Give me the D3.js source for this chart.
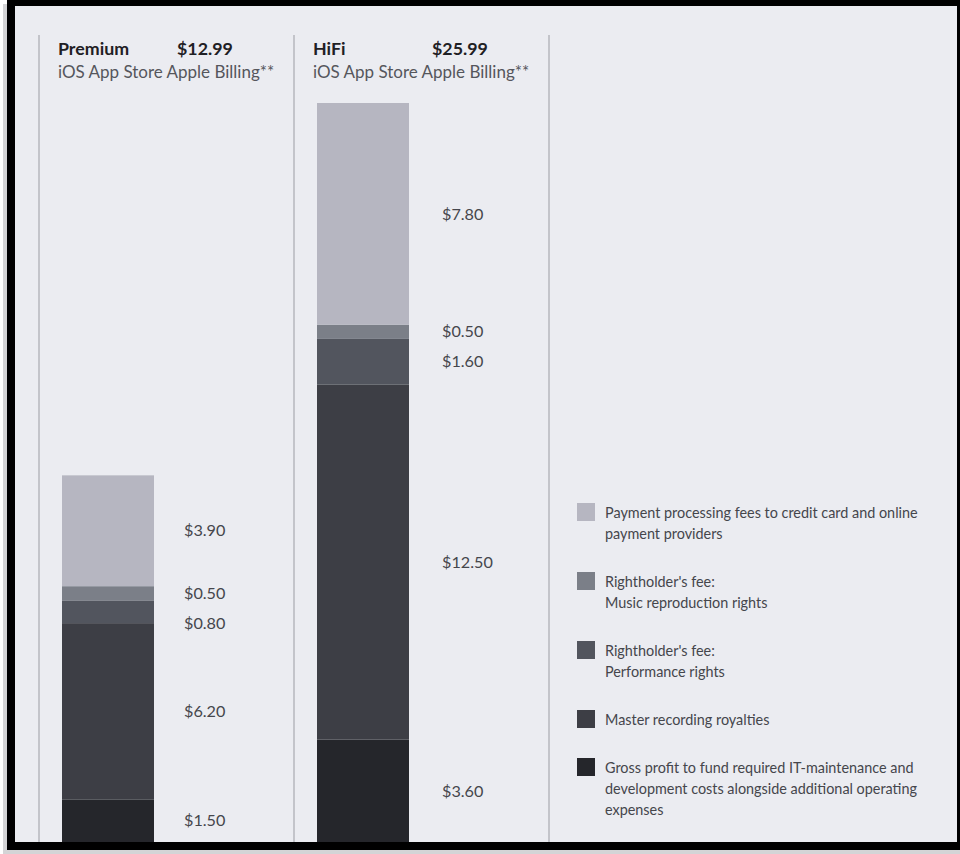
<!DOCTYPE html>
<html lang="en">
<head>
    <meta charset="UTF-8">
    <title>Subscription price breakdown</title>
    <script src="https://cdnjs.cloudflare.com/ajax/libs/d3/7.8.5/d3.js"></script>
    <style>
        html, body { margin: 0; padding: 0; background: #ffffff; }
        svg { display: block; font-family: Lato, "Open Sans", sans-serif; }
    </style>
</head>
<body>
<svg width="960" height="854"></svg>

<script>
    // ---- data ----
    const plans = ["Premium", "HiFi"];
    const prices = ["$12.99", "$25.99"];
    const billing = "iOS App Store Apple Billing**";

    // stack order: bottom -> top
    const keys = ["gross", "master", "performance", "reproduction", "payment"];
    const premiumValues = [1.50, 6.20, 0.80, 0.50, 3.90];
    const hifiValues = [3.60, 12.50, 1.60, 0.50, 7.80];
    const colors = ["#25262b", "#3d3e45", "#52555e", "#7b7f88", "#b6b6c1"];

    // legend, listed top -> bottom
    const legendKeys = ["payment", "reproduction", "performance", "master", "gross"];
    const legendLines = [
        ["Payment processing fees to credit card and online", "payment providers"],
        ["Rightholder's fee:", "Music reproduction rights"],
        ["Rightholder's fee:", "Performance rights"],
        ["Master recording royalties"],
        ["Gross profit to fund required IT-maintenance and", "development costs alongside additional operating", "expenses"]
    ];

    // ---- layout ----
    const svg = d3.select("svg");
    const panel = { x: 15, y: 6, w: 942, h: 836 };
    const bottom = panel.y + panel.h;

    // frame + shadow
    svg.append("rect").attr("x", 3).attr("y", 4).attr("width", 957).attr("height", 850).attr("fill", "#d4d4d6");
    svg.append("rect").attr("x", 7).attr("y", 0).attr("width", 953).attr("height", 850).attr("fill", "#000");
    svg.append("rect").attr("x", panel.x).attr("y", panel.y).attr("width", panel.w).attr("height", panel.h).attr("fill", "#ebecf1");

    const table = plans.map((p, i) => {
        const row = { plan: p, price: prices[i] };
        const vals = i === 0 ? premiumValues : hifiValues;
        keys.forEach((k, j) => row[k] = vals[j]);
        return row;
    });

    const stacked = d3.stack().keys(keys)(table);
    const color = d3.scaleOrdinal().domain(keys).range(colors);

    const x = d3.scaleBand().domain(plans).range([39, 549]);
    const y = d3.scaleLinear()
        .domain([0, d3.max(stacked[stacked.length - 1], d => d[1])])
        .range([bottom, 103]);

    svg.append("clipPath").attr("id", "panelClip")
        .append("rect").attr("x", panel.x).attr("y", panel.y).attr("width", panel.w).attr("height", panel.h);

    const g = svg.append("g").attr("clip-path", "url(#panelClip)");

    // column dividers
    const lineXs = plans.map(p => x(p)).concat([x.range()[1]]);
    g.selectAll("line.divider")
        .data(lineXs)
        .enter()
        .append("line")
        .attr("class", "divider")
        .attr("x1", d => d).attr("x2", d => d)
        .attr("y1", 35).attr("y2", bottom)
        .attr("stroke", "#b6b7bc")
        .attr("stroke-width", 1.5);

    // bars
    const barOffset = 23, barWidth = 92;
    g.selectAll("g.layer")
        .data(stacked)
        .enter()
        .append("g")
        .attr("class", "layer")
        .attr("fill", d => color(d.key))
        .selectAll("rect")
        .data(d => d)
        .enter()
        .append("rect")
        .attr("x", d => x(d.data.plan) + barOffset)
        .attr("width", barWidth)
        .attr("y", d => y(d[1]))
        .attr("height", d => y(d[0]) - y(d[1]));

    // headers
    const header = svg.append("g");
    plans.forEach((p, i) => {
        const cx = x(p);
        header.append("text").attr("x", cx + 19).attr("y", 55)
            .attr("font-size", 17.8).attr("font-weight", 700).attr("fill", "#1f2024").text(p);
        header.append("text").attr("x", cx + 138).attr("y", 55)
            .attr("font-size", 17.8).attr("font-weight", 700).attr("fill", "#1f2024").text(prices[i]);
        header.append("text").attr("x", cx + 19).attr("y", 78)
            .attr("font-size", 17).attr("fill", "#55565c").text(billing);
    });

    // value labels at segment midpoints, nudged so they don't collide
    const fmt = d => "$" + d3.format(".2f")(d);
    plans.forEach((p, i) => {
        const labels = stacked.map(layer => {
            const s = layer[i];
            return { v: s[1] - s[0], y: (y(s[0]) + y(s[1])) / 2 };
        }).sort((a, b) => a.y - b.y);
        for (let k = 1; k < labels.length; k++) {
            if (labels[k].y - labels[k - 1].y < 30) labels[k].y = labels[k - 1].y + 30;
        }
        g.selectAll(null)
            .data(labels)
            .enter()
            .append("text")
            .attr("x", x(p) + 145 + i * 3)
            .attr("y", d => d.y)
            .attr("dy", "0.35em")
            .attr("font-size", 16.2)
            .attr("fill", "#45464c")
            .text(d => fmt(d.v));
    });

    // legend
    const legend = svg.append("g").attr("transform", "translate(577,503)");
    let ly = 0;
    legendKeys.forEach((k, i) => {
        const item = legend.append("g").attr("transform", `translate(0,${ly})`);
        item.append("rect").attr("width", 18).attr("height", 18).attr("fill", color(k));
        item.selectAll("text")
            .data(legendLines[i])
            .enter()
            .append("text")
            .attr("x", 28)
            .attr("y", (d, j) => 15 + j * 21)
            .attr("font-size", 14.4)
            .attr("fill", "#45464c")
            .text(d => d);
        ly += legendLines[i].length * 21 + 27;
    });
</script>
</body>
</html>
